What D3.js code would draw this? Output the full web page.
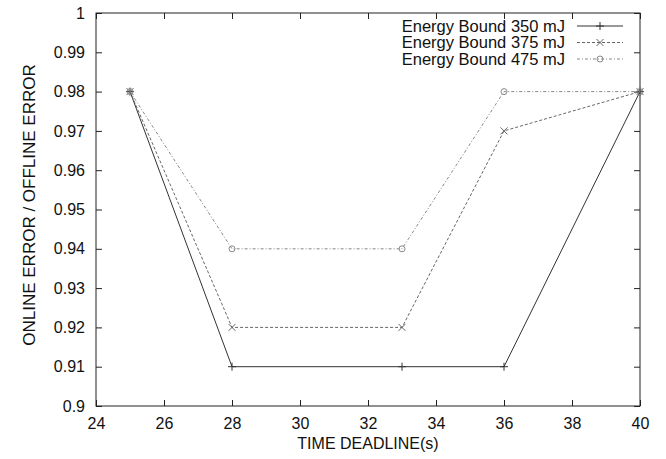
<!DOCTYPE html>
<html>
<head>
<meta charset="utf-8">
<script src="https://cdn.jsdelivr.net/npm/d3@7"></script>
<style>
  html, body { margin: 0; padding: 0; background: #fff; }
  svg { display: block; font-family: "Liberation Sans", Arial, sans-serif; }
</style>
</head>
<body>
<svg id="chart" width="666" height="459"></svg>
<script>
// Time deadlines (s) and the online/offline error ratio for each energy bound
const deadlines = [25, 28, 33, 36, 40];
const bound350 = [0.98, 0.91, 0.91, 0.91, 0.98];
const bound375 = [0.98, 0.92, 0.92, 0.97, 0.98];
const bound475 = [0.98, 0.94, 0.94, 0.98, 0.98];
const seriesNames = ["Energy Bound 350 mJ", "Energy Bound 375 mJ", "Energy Bound 475 mJ"];
const xTicks = [24, 26, 28, 30, 32, 34, 36, 38, 40];
const yTicks = [0.9, 0.91, 0.92, 0.93, 0.94, 0.95, 0.96, 0.97, 0.98, 0.99, 1];

const svg = d3.select("#chart");
const m = { left: 96, right: 640, top: 13, bottom: 406 };

const x = d3.scaleLinear().domain([24, 40]).range([m.left, m.right]);
const y = d3.scaleLinear().domain([0.9, 1]).range([m.bottom, m.top]);

const axisColor = "#222";
const tickLen = 6;

// Frame
svg.append("rect")
  .attr("x", m.left).attr("y", m.top)
  .attr("width", m.right - m.left).attr("height", m.bottom - m.top)
  .attr("fill", "none").attr("stroke", axisColor).attr("stroke-width", 1);

// Axes: ticks point inward, mirrored on the opposite side
function styleAxis(g) {
  g.select(".domain").remove();
  g.selectAll(".tick line").attr("stroke", axisColor);
  g.selectAll(".tick text").attr("fill", "#111").style("font-size", "16px")
    .style("font-family", "'Liberation Sans', Arial, sans-serif");
}

svg.append("g").attr("transform", `translate(0,${m.bottom})`)
  .call(d3.axisBottom(x).tickValues(xTicks).tickFormat(d3.format("d"))
        .tickSizeInner(-tickLen).tickPadding(12))
  .call(styleAxis);

svg.append("g").attr("transform", `translate(0,${m.top})`)
  .call(d3.axisTop(x).tickValues(xTicks).tickSizeInner(-tickLen).tickFormat(""))
  .call(styleAxis);

svg.append("g").attr("transform", `translate(${m.left},0)`)
  .call(d3.axisLeft(y).tickValues(yTicks).tickFormat(d => d3.format("")(+d.toFixed(2)))
        .tickSizeInner(-tickLen).tickPadding(11))
  .call(styleAxis);

svg.append("g").attr("transform", `translate(${m.right},0)`)
  .call(d3.axisRight(y).tickValues(yTicks).tickSizeInner(-tickLen).tickFormat(""))
  .call(styleAxis);

// Axis titles
svg.append("text")
  .attr("x", (m.left + m.right) / 2).attr("y", 449)
  .attr("text-anchor", "middle").attr("fill", "#111")
  .style("font-size", "16px")
  .text("TIME DEADLINE(s)");

svg.append("text")
  .attr("transform", `translate(35,205) rotate(-90)`)
  .attr("text-anchor", "middle").attr("fill", "#111")
  .style("font-size", "17px")
  .text("ONLINE ERROR / OFFLINE ERROR");

// Series definitions
const series = [
  { name: seriesNames[0], values: bound350, color: "#333", dash: null, marker: "plus" },
  { name: seriesNames[1], values: bound375, color: "#666", dash: "3,2", marker: "cross" },
  { name: seriesNames[2], values: bound475, color: "#888", dash: "3,2,1,2", marker: "circle" }
];

const line = d3.line().x(d => x(d[0])).y(d => y(d[1]));

function drawMarker(g, type, cx, cy, color) {
  if (type === "plus") {
    g.append("path").attr("d", `M${cx - 4},${cy}H${cx + 4}M${cx},${cy - 4}V${cy + 4}`)
      .attr("stroke", color).attr("stroke-width", 1).attr("fill", "none");
  } else if (type === "cross") {
    g.append("path").attr("d", `M${cx - 3.5},${cy - 3.5}L${cx + 3.5},${cy + 3.5}M${cx - 3.5},${cy + 3.5}L${cx + 3.5},${cy - 3.5}`)
      .attr("stroke", color).attr("stroke-width", 1).attr("fill", "none");
  } else {
    g.append("circle").attr("cx", cx).attr("cy", cy).attr("r", 3)
      .attr("stroke", color).attr("stroke-width", 1).attr("fill", "none");
  }
}

series.forEach(s => {
  const pts = deadlines.map((d, i) => [d, s.values[i]]);
  const g = svg.append("g");
  g.append("path").datum(pts).attr("d", line)
    .attr("fill", "none").attr("stroke", s.color).attr("stroke-width", 1)
    .attr("stroke-dasharray", s.dash);
  pts.forEach(p => drawMarker(g, s.marker, x(p[0]), y(p[1]), s.color));
});

// Legend
const legendRight = 565;
series.forEach((s, i) => {
  const cy = 26 + i * 16.5;
  const g = svg.append("g");
  g.append("text").attr("x", legendRight).attr("y", cy + 5.5)
    .attr("text-anchor", "end").attr("fill", "#111")
    .style("font-size", "16.5px").text(s.name);
  g.append("line").attr("x1", 577).attr("x2", 623).attr("y1", cy).attr("y2", cy)
    .attr("stroke", s.color).attr("stroke-width", 1).attr("stroke-dasharray", s.dash);
  drawMarker(g, s.marker, 600, cy, s.color);
});
</script>
</body>
</html>
